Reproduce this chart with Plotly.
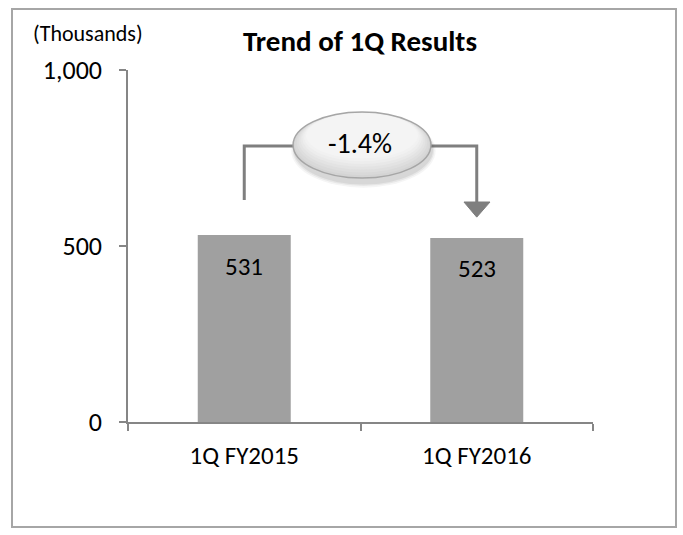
import plotly.graph_objects as go

# Quarterly results (thousands)
categories = ["1Q FY2015", "1Q FY2016"]
values = [531, 523]
change_label = "-1.4%"
y_ticks = [0, 500, 1000]
y_tick_labels = ["0", "500", "1,000"]

W, H = 683, 535
L, R, T, B = 128, 90, 70, 113
FONT = "Carlito, Lato, sans-serif"
GREY = "#7f7f7f"


def px_x(p):
    return (p - L) / (W - L - R)


def px_y(p):
    return (H - B - p) / (H - T - B)


fig = go.Figure()
fig.add_trace(go.Bar(
    x=categories, y=values, width=0.4,
    marker=dict(color="#a0a0a0", line=dict(width=0)),
    hoverinfo="skip",
))

# value labels inside the top of each bar
annotations = []
for c, v in zip(categories, values):
    annotations.append(dict(
        x=c, y=v, xref="x", yref="y", text=str(v), showarrow=False,
        xanchor="center", yanchor="middle", yshift=-31,
        font=dict(size=25, color="#000", family=FONT),
    ))

shapes = []
# outer frame
shapes.append(dict(type="rect", xref="paper", yref="paper",
                   x0=px_x(12), x1=px_x(676), y0=px_y(527), y1=px_y(9),
                   line=dict(color="#a6a6a6", width=2), fillcolor="rgba(0,0,0,0)", layer="below"))

top_y = 784            # connector elbow height (data units)
start_y = 631          # left leg bottom
end_y = 625            # right leg bottom (arrowhead base)
tip_y = 582
ell_x0, ell_x1 = 0.21, 0.803
ell_y0, ell_y1 = 693, 881

# connector lines
shapes.append(dict(type="path", xref="x", yref="y",
                   path=f"M 0,{start_y} L 0,{top_y} L {ell_x0 + 0.02},{top_y}",
                   line=dict(color=GREY, width=3)))
shapes.append(dict(type="path", xref="x", yref="y",
                   path=f"M {ell_x1 - 0.02},{top_y} L 1,{top_y} L 1,{end_y}",
                   line=dict(color=GREY, width=3)))
# arrowhead
shapes.append(dict(type="path", xref="x", yref="y",
                   path=f"M 0.945,{end_y} L 1.057,{end_y} L 1,{tip_y} Z",
                   fillcolor=GREY, line=dict(color=GREY, width=1)))

# bubble shadow (soft, offset downward)
for op, grow in [(0.06, 0.014), (0.08, 0.008), (0.10, 0.003)]:
    shapes.append(dict(type="circle", xref="x", yref="y",
                       x0=ell_x0 + 0.006 - grow, x1=ell_x1 + 0.006 + grow,
                       y0=ell_y0 - 16 - grow * 800, y1=ell_y1 - 10 + grow * 300,
                       fillcolor=f"rgba(80,80,80,{op})", line=dict(width=0)))
# bubble body with soft vertical shading
shapes.append(dict(type="circle", xref="x", yref="y",
                   x0=ell_x0, x1=ell_x1, y0=ell_y0, y1=ell_y1,
                   fillcolor="#d4d4d4", line=dict(width=0)))
for k, col in enumerate(["#d9d9d9", "#dedede", "#e3e3e3", "#e8e8e8", "#ededed", "#f1f1f1", "#f4f4f4"]):
    s = (k + 1) * 0.008
    shapes.append(dict(type="circle", xref="x", yref="y",
                       x0=ell_x0 + s * 1.0, x1=ell_x1 - s * 1.0,
                       y0=ell_y0 + s * 1000, y1=ell_y1 - s * 60,
                       fillcolor=col, line=dict(width=0)))
shapes.append(dict(type="circle", xref="x", yref="y",
                   x0=ell_x0, x1=ell_x1, y0=ell_y0, y1=ell_y1,
                   fillcolor="rgba(0,0,0,0)", line=dict(color="#a6a6a6", width=1.5)))

annotations.append(dict(x=(ell_x0 + ell_x1) / 2 - 0.01, y=(ell_y0 + ell_y1) / 2 + 3, xref="x", yref="y",
                        text=change_label, showarrow=False, xanchor="center", yanchor="middle",
                        font=dict(size=28, color="#000", family=FONT)))

# title and unit label
annotations.append(dict(x=px_x(360), y=px_y(41), xref="paper", yref="paper",
                        text="<b>Trend of 1Q Results</b>", showarrow=False,
                        xanchor="center", yanchor="middle",
                        font=dict(size=29, color="#000", family=FONT)))
annotations.append(dict(x=px_x(88), y=px_y(34), xref="paper", yref="paper",
                        text="(Thousands)", showarrow=False,
                        xanchor="center", yanchor="middle",
                        font=dict(size=22, color="#000", family=FONT)))

fig.update_layout(
    width=W, height=H,
    margin=dict(l=L, r=R, t=T, b=B, pad=0),
    paper_bgcolor="white", plot_bgcolor="white",
    showlegend=False,
    shapes=shapes, annotations=annotations,
    font=dict(family=FONT, color="#000"),
)
fig.update_xaxes(
    type="category", range=[-0.5, 1.5],
    showline=True, linecolor="#868686", linewidth=1.5,
    ticks="outside", tickson="boundaries", ticklen=7, tickcolor="#868686", tickwidth=1.5,
    showgrid=False, zeroline=False, ticklabelstandoff=10,
    tickfont=dict(size=25, family=FONT, color="#000"),
)
fig.update_yaxes(
    range=[0, 1000], tickvals=y_ticks, ticktext=y_tick_labels,
    showline=True, linecolor="#868686", linewidth=1.5,
    ticks="outside", ticklen=7, tickcolor="#868686", tickwidth=1.5,
    showgrid=False, zeroline=False, ticklabelstandoff=12,
    tickfont=dict(size=26, family=FONT, color="#000"),
)

fig.write_html("out.html")
